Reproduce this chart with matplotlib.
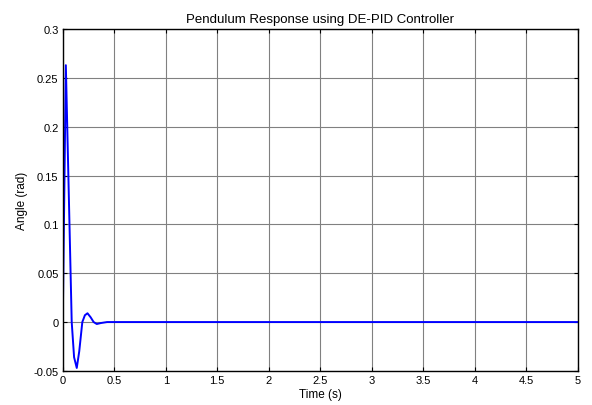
import matplotlib
matplotlib.use("Agg")
import matplotlib.pyplot as plt
import numpy as np

plt.rcParams['font.family'] = ['Liberation Sans', 'DejaVu Sans']

time_s = [0, 0.03, 0.087, 0.11, 0.136, 0.16, 0.19, 0.215, 0.24, 0.27, 0.30, 0.33, 0.37, 0.43, 5.0]
angle_rad = [0, 0.263, 0, -0.036, -0.047, -0.03, 0, 0.007, 0.009, 0.005, 0, -0.002, -0.001, 0, 0]

xticks = [0, 0.5, 1, 1.5, 2, 2.5, 3, 3.5, 4, 4.5, 5]
yticks = [-0.05, 0, 0.05, 0.1, 0.15, 0.2, 0.25, 0.3]
xticklabels = ['0', '0.5', '1', '1.5', '2', '2.5', '3', '3.5', '4', '4.5', '5']
yticklabels = ['-0.05', '0', '0.05', '0.1', '0.15', '0.2', '0.25', '0.3']

fig = plt.figure(figsize=(5.92, 4.06), dpi=100)
ax = fig.add_axes([0.106, 0.084, 0.870, 0.842])
ax.plot(time_s, angle_rad, color='#0000ff', lw=1.4)
ax.set_xlim(0, 5)
ax.set_ylim(-0.05, 0.3)
ax.set_xticks(xticks)
ax.set_xticklabels(xticklabels)
ax.set_yticks(yticks)
ax.set_yticklabels(yticklabels)
ax.grid(True, color='#808080', lw=0.8)
ax.tick_params(direction='in', top=True, right=True, labelsize=8, length=3, width=0.8, pad=3)
for s in ax.spines.values():
    s.set_linewidth(1.0)
ax.set_xlabel('Time (s)', fontsize=8.5, labelpad=2)
ax.set_ylabel('Angle (rad)', fontsize=8.5, labelpad=4)
ax.set_title('Pendulum Response using DE-PID Controller', fontsize=9.5, pad=5)
fig.savefig('out.png', dpi=100)
